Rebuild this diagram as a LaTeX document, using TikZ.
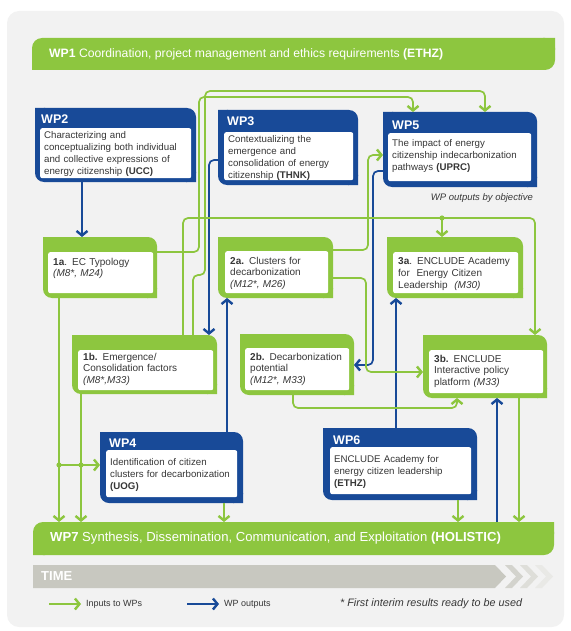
\documentclass[tikz,border=0pt]{standalone}
\usepackage{fontspec}
\setmainfont{Liberation Sans}
\usetikzlibrary{
  arrows.meta,
}

\definecolor{ecgreen}{RGB}{141,198,63}
\definecolor{ecblue}{RGB}{24,74,152}
\definecolor{panelgray}{RGB}{242,242,242}
\definecolor{timegray}{RGB}{200,200,192}
\definecolor{bodytext}{RGB}{55,55,55}

\tikzset{
  wp/.style={fill=ecblue, rounded corners=9pt, inner sep=0pt, outer sep=0pt, anchor=north west},
  ob/.style={wp, fill=ecgreen},
  bar/.style={wp, fill=ecgreen, rounded corners=10pt},
  wptitle/.style={anchor=west, inner sep=0pt, text=white, font=\fontsize{12.5}{14}\selectfont\bfseries},
  wptext/.style={fill=white, rounded corners=2pt, anchor=north west, inner xsep=4pt, inner ysep=3pt,
    align=left, text=bodytext, font=\fontsize{9.7}{12}\selectfont},
  obtext/.style={wptext, inner xsep=5pt, font=\fontsize{10}{11.7}\selectfont},
  bartext/.style={anchor=west, inner sep=0pt, text=white, font=\fontsize{12.5}{15}\selectfont},
  keytext/.style={anchor=west, inner sep=0pt, text=bodytext, font=\fontsize{9}{10}\selectfont},
  remark/.style={keytext, font=\fontsize{9.5}{11}\selectfont\itshape},
  link/.style={line width=1.7pt, rounded corners=5pt},
  inflow/.style={link, draw=ecgreen, -{Straight Barb[length=4.5pt,width=11pt,line width=2.4pt]}},
  outflow/.style={link, draw=ecblue, -{Straight Barb[length=4.5pt,width=11pt,line width=2.4pt]}},
}

% square off the top left and bottom right corners of a box
\newcommand\boxcorners[2]{\fill[#2] (#1.north west) rectangle ++(10,10) (#1.south east) rectangle ++(-10,-10);}
% bars keep round corners top left and bottom right
\newcommand\barcorners[1]{\fill[ecgreen] (#1.north east) rectangle ++(-12,12) (#1.south west) rectangle ++(12,-12);}

\begin{document}
\begin{tikzpicture}[x=1pt,y=-1pt]
\useasboundingbox (0,0) rectangle (570,631);
\fill[panelgray, rounded corners=12pt] (7,11) rectangle (564,627);

% WP1
\node[bar, minimum width=523pt, minimum height=32pt] (wp1) at (32,38) {};
\barcorners{wp1}
\node[bartext, font=\fontsize{12.2}{15}\selectfont] (wp1t) at ([xshift=17pt]wp1.west) {\textbf{WP1} Coordination, project management and ethics requirements \textbf{(ETHZ)}};

% work packages
\node[wp, minimum width=161pt, minimum height=74pt] (wp2) at (35,108) {};
\boxcorners{wp2}{ecblue}
\node[wptitle] (wp2t) at ([xshift=6pt,yshift=-11pt]wp2.north west) {WP2};
\node[wptext, text width=143pt, text height=7pt, text depth=37pt] (wp2x) at (40,128)
  {Characterizing and\\conceptualizing both individual\\and collective expressions of\\energy citizenship \textbf{(UCC)}};

\node[wp, minimum width=140pt, minimum height=75pt] (wp3) at (218,110) {};
\boxcorners{wp3}{ecblue}
\node[wptitle] (wp3t) at ([xshift=9pt,yshift=-11pt]wp3.north west) {WP3};
\node[wptext, text width=121pt, text height=7pt, text depth=35pt] (wp3x) at (224,132)
  {Contextualizing the\\emergence and\\consolidation of energy\\citizenship \textbf{(THNK)}};

\node[wp, minimum width=154pt, minimum height=75pt] (wp5) at (383,112) {};
\boxcorners{wp5}{ecblue}
\node[wptitle] (wp5t) at ([xshift=9pt,yshift=-13pt]wp5.north west) {WP5};
\node[wptext, text width=135pt, text height=10pt, text depth=32pt] (wp5x) at (388,133)
  {The impact of energy\\citizenship indecarbonization\\pathways \textbf{(UPRC)}};

\node[remark, anchor=east] (wp5r) at (533,198) {WP outputs by objective};

\node[wp, minimum width=143pt, minimum height=71pt] (wp4) at (100,432) {};
\boxcorners{wp4}{ecblue}
\node[wptitle] (wp4t) at ([xshift=9pt,yshift=-11pt]wp4.north west) {WP4};
\node[wptext, text width=123pt, text height=12pt, text depth=29pt] (wp4x) at (106,450)
  {Identification of citizen\\clusters for decarbonization\\\textbf{(UOG)}};

\node[wp, minimum width=154pt, minimum height=72pt] (wp6) at (323,428) {};
\boxcorners{wp6}{ecblue}
\node[wptitle] (wp6t) at ([xshift=10pt,yshift=-12pt]wp6.north west) {WP6};
\node[wptext, text width=133pt, text height=12pt, text depth=29pt] (wp6x) at (330,447)
  {ENCLUDE Academy for\\energy citizen leadership\\\textbf{(ETHZ)}};

% objectives
\node[ob, minimum width=114pt, minimum height=61pt] (o1a) at (43,237) {};
\boxcorners{o1a}{ecgreen}
\node[obtext, text width=95pt, text height=10pt, text depth=25pt] (o1ax) at (48,252)
  {\textbf{1a}. EC Typology\\\textit{(M8*, M24)}};

\node[ob, minimum width=115pt, minimum height=61pt] (o2a) at (218,237) {};
\boxcorners{o2a}{ecgreen}
\node[obtext, text width=93pt, text height=10pt, text depth=26pt] (o2ax) at (225,251)
  {\textbf{2a.} Clusters for\\decarbonization\\\textit{(M12*, M26)}};

\node[ob, minimum width=136pt, minimum height=61pt] (o3a) at (387,237) {};
\boxcorners{o3a}{ecgreen}
\node[obtext, text width=115pt, text height=9.5pt, text depth=25.5pt] (o3ax) at (393,252)
  {\textbf{3a}. ENCLUDE Academy\\for\ \ Energy Citizen\\Leadership\ \ \textit{(M30)}};

\node[ob, minimum width=145pt, minimum height=59pt] (o1b) at (72,335) {};
\boxcorners{o1b}{ecgreen}
\node[obtext, text width=125pt, text height=7pt, text depth=27pt] (o1bx) at (78,350)
  {\textbf{1b.} Emergence/\\Consolidation factors\\\textit{(M8*,M33)}};

\node[ob, minimum width=114pt, minimum height=61pt] (o2b) at (240,334) {};
\boxcorners{o2b}{ecgreen}
\node[obtext, text width=94pt, text height=9pt, text depth=27pt] (o2bx) at (245,348)
  {\textbf{2b.} Decarbonization\\potential\\\textit{(M12*, M33)}};

\node[ob, minimum width=124pt, minimum height=63pt] (o3b) at (423,335) {};
\boxcorners{o3b}{ecgreen}
\node[obtext, text width=104pt, text height=9pt, text depth=28pt] (o3bx) at (429,350)
  {\textbf{3b.} ENCLUDE\\Interactive policy\\platform \textit{(M33)}};

% WP7
\node[bar, minimum width=521pt, minimum height=33pt] (wp7) at (33,522) {};
\barcorners{wp7}
\node[bartext, font=\fontsize{13.1}{15}\selectfont] (wp7t) at ([xshift=17pt]wp7.west) {\textbf{WP7} Synthesis, Dissemination, Communication, and Exploitation \textbf{(HOLISTIC)}};

% outputs
\draw[outflow] ([xshift=47pt]wp2.south west) -- ([xshift=39pt]o1a.north west);
\draw[outflow] ([yshift=-50pt]wp3.north west) -| ([xshift=137pt]o1b.north west);
\draw[outflow] ([yshift=-59pt]wp5.north west) -- ++(-10,0) |- ([yshift=-31pt]o2b.north east);
\draw[outflow] ([xshift=127pt]wp4.north west) -- ([xshift=9pt]o2a.south west);
\draw[outflow] ([xshift=73pt]wp6.north west) -- ([xshift=9pt]o3a.south west);
\draw[outflow] ([xshift=464pt]wp7.north west) -- ([xshift=74pt]o3b.south west);

% inputs
\coordinate (fork) at (442,218);
\coordinate (tap1) at (59,465);
\coordinate (tap2) at (81,465);
\draw[inflow] ([yshift=-15pt]o1a.north east) -| (199,97) -| ([xshift=30pt]wp5.north west);
\draw[inflow] ([xshift=121pt]o1b.north west) -- (193,275) -| (205,91) -| ([xshift=102pt]wp5.north west);
\draw[inflow] ([xshift=111pt]o1b.north west) |- (fork) -| ([xshift=112pt]o3b.north west);
\draw[inflow] (fork) -- ([xshift=55pt]o3a.north west);
\draw[inflow] ([yshift=-13pt]o2a.north east) -| (368,155) -- ([yshift=-43pt]wp5.north west);
\draw[inflow] ([yshift=-41pt]o2a.north east) -| (366,372) -- ([yshift=-37pt]o3b.north west);
\draw[inflow] ([xshift=16pt]o1a.south west) -- ([xshift=26pt]wp7.north west);
\draw[inflow] ([xshift=9pt]o1b.south west) -- ([xshift=48pt]wp7.north west);
\draw[inflow] (tap1) -- ([yshift=-33pt]wp4.north west);
\draw[inflow] ([xshift=124pt]wp4.south west) -- ([xshift=191pt]wp7.north west);
\draw[inflow] ([xshift=53pt]o2b.south west) |- (457,408) -- ([xshift=34pt]o3b.south west);
\draw[inflow] ([xshift=135pt]wp6.south west) -- ([xshift=425pt]wp7.north west);
\draw[inflow] ([xshift=96pt]o3b.south west) -- ([xshift=486pt]wp7.north west);
\fill[ecgreen] (fork) circle (2.6pt) (tap1) circle (2.6pt) (tap2) circle (2.6pt);

% time line
\fill[timegray] (33,565) -- (495,565) -- (506,576.5) -- (495,588) -- (33,588) -- cycle;
\foreach \x/\c in {512/80,527/60,542/40}
  \fill[timegray!\c] (\x,565) -- (\x+11,576.5) -- (\x,588) -- (\x-7,588) -- (\x+4,576.5) -- (\x-7,565) -- cycle;
\node[bartext, font=\fontsize{13}{15}\selectfont\bfseries] (time) at (41,576.5) {TIME};

% key
\node[keytext] (keyin) at (86,604) {Inputs to WPs};
\draw[inflow] ([xshift=-37pt]keyin.west) -- ([xshift=-5pt]keyin.west);
\node[keytext] (keyout) at (224,604) {WP outputs};
\draw[outflow] ([xshift=-37pt]keyout.west) -- ([xshift=-5pt]keyout.west);
\node[remark, font=\fontsize{10.8}{12}\selectfont\itshape] (keynote) at (340,604) {* First interim results ready to be used};
\end{tikzpicture}
\end{document}
